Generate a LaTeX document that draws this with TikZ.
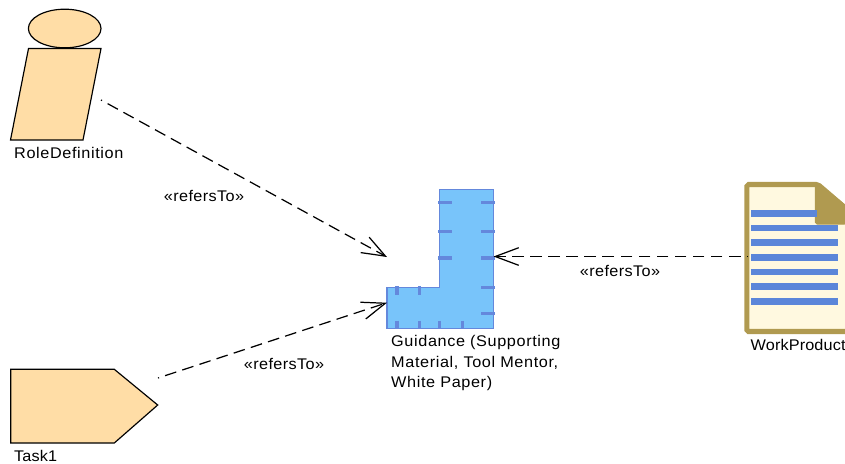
\documentclass[tikz,border=0pt]{standalone}
\usepackage{fontspec}
\setmainfont{Liberation Sans}[FakeStretch=1.05,LetterSpace=2.5]
\usetikzlibrary{arrows.meta}
\definecolor{elementfill}{HTML}{FFDDA6}
\definecolor{guidefill}{HTML}{78C4FA}
\definecolor{guideline}{HTML}{6488DC}
\definecolor{paperfill}{HTML}{FFF9E0}
\definecolor{paperedge}{HTML}{B09A50}
\definecolor{paperline}{HTML}{5B86D9}
\tikzset{
    element/.style={draw=black, fill=elementfill, line width=1pt},
    caption/.style={anchor=west, inner sep=0pt, font=\fontsize{13.2}{17.9}\selectfont, align=left},
    widecaption/.style={caption, font=\fontsize{13.2}{17.9}\selectfont\addfontfeature{LetterSpace=4}},
    tightcaption/.style={caption, font=\fontsize{13.2}{17.9}\selectfont\addfontfeature{LetterSpace=0.8}},
    tick/.style={draw=guideline, line width=2.6pt},
    textline/.style={draw=paperline, line width=5.6pt},
    refers/.style={draw=black, line width=1.05pt, dash pattern=on 10pt off 5.4pt, dash phase=9pt, -{Straight Barb[length=20pt,width=15pt]}},
}
\begin{document}
\begin{tikzpicture}[x=0.03cm,y=-0.03cm]
    \useasboundingbox (0,0) rectangle (845,463);

    % role
    \draw [element] (64.7,28.5) ellipse [x radius=36.3, y radius=19.3];
    \draw [element] (28.5,48.5) -- (101,48.5) -- (83,140) -- (10.5,140) -- cycle;
    \node [widecaption] (roleLabel) at (14,152.5) {RoleDefinition};
    \coordinate (roleEnd) at (101,100);

    % task
    \draw [element] (10.7,369.3) -- (114.3,369.3) -- (157.7,405) -- (114.3,443) -- (10.7,443) -- cycle;
    \node [tightcaption] (taskLabel) at (14,456) {Task1};
    \coordinate (taskEnd) at (158,378);

    % guidance
    \draw [fill=guidefill, draw=guideline, line width=1pt] (439.3,189.3) -- (493.3,189.3) -- (493.3,328.3)
        -- (387,328.3) -- (387,287.3) -- (439.3,287.3) -- cycle;
    \foreach \y in {202.3,231.7,258} {
        \draw [tick] (438,\y) -- (452,\y);
    }
    \foreach \y in {202.3,231.7,258,287.7,313.7} {
        \draw [tick] (481,\y) -- (494.7,\y);
    }
    \foreach \x in {397,419.7} {
        \draw [tick] (\x,286.3) -- (\x,295.3);
    }
    \foreach \x in {397,419.7,439.3,462.3} {
        \draw [tick] (\x,320.7) -- (\x,329.3);
    }
    \node [widecaption, anchor=north west] (guidanceLabel) at (391,334.6) {Guidance (Supporting\\Material, Tool Mentor,\\White Paper)};
    \coordinate (guidanceTop) at (387,257);
    \coordinate (guidanceLow) at (387,302.7);
    \coordinate (guidanceRight) at (493.5,256.5);

    % work product
    \draw [fill=paperfill, draw=paperedge, line width=4.3pt, rounded corners=1.5pt]
        (746.8,184.5) -- (818,184.5) -- (850,212) -- (850,331.5) -- (746.8,331.5) -- cycle;
    \draw [fill=paperedge, draw=paperedge, line width=1pt, rounded corners=1.5pt]
        (815.5,184) -- (819,184) -- (846,206) -- (846,224) -- (815.5,224) -- cycle;
    \draw [textline] (751,213.3) -- (816.7,213.3);
    \foreach \y in {228,242.7,257.3,272,286.7,301.7} {
        \draw [textline] (751,\y) -- (838,\y);
    }
    \node [tightcaption] (workLabel) at (750.5,344.5) {WorkProduct};
    \coordinate (workEnd) at (748,256.5);

    % connectors
    \draw [refers] (roleEnd) -- (guidanceTop);
    \draw [refers] (taskEnd) -- (guidanceLow);
    \draw [refers] (workEnd) -- (guidanceRight);
    \node [caption, anchor=center] (refersA) at (204,196) {«refersTo»};
    \node [caption, anchor=center] (refersB) at (284,364) {«refersTo»};
    \node [caption, anchor=center] (refersC) at (620,271) {«refersTo»};
\end{tikzpicture}
\end{document}
